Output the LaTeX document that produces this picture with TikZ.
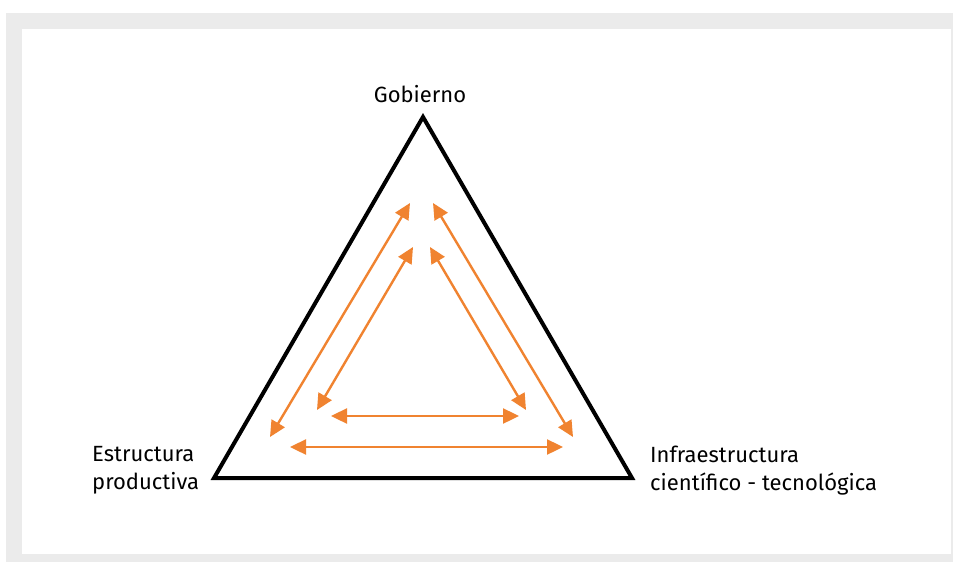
\documentclass[tikz,border=0pt]{standalone}
\usepackage{fontspec}
\setmainfont{Fira Sans}
\usetikzlibrary{arrows.meta}
\definecolor{framegrey}{RGB}{235,235,235}
\definecolor{linkorange}{RGB}{240,131,48}
\tikzset{
  frame/.style={fill=framegrey, draw=none},
  panel/.style={fill=white, draw=none},
  corner/.style={draw=black, line width=4pt, line join=miter},
  link/.style={draw=linkorange, line width=2.4pt,
    {Triangle[length=16pt,width=15pt]}-{Triangle[length=16pt,width=15pt]}},
  label/.style={inner sep=0pt, font=\fontsize{22}{28}\selectfont, align=left}
}
\begin{document}
\begin{tikzpicture}[x=1pt,y=-1pt]
  \useasboundingbox (0,0) rectangle (953,562);
  % background frame and white panel
  \fill[white] (0,0) rectangle (953,562);
  \path[frame] (6,13) rectangle (953,562);
  \path[panel] (22,29) rectangle (951,554);

  % triangle corners
  \coordinate (top) at (423,117);
  \coordinate (left) at (214,478);
  \coordinate (right) at (632,478);
  \draw[corner] (top) -- (left) -- (right) -- cycle;

  % outer ring of double-headed links
  \coordinate (oL1) at (270,437);
  \coordinate (oL2) at (410,203);
  \coordinate (oR1) at (433,203);
  \coordinate (oR2) at (573,437);
  \coordinate (oB1) at (290,447);
  \coordinate (oB2) at (563,447);
  % inner ring
  \coordinate (iL1) at (317,410);
  \coordinate (iL2) at (413,247);
  \coordinate (iR1) at (430,247);
  \coordinate (iR2) at (526,410);
  \coordinate (iB1) at (331,416);
  \coordinate (iB2) at (519,416);

  \draw[link] (oL1) -- (oL2);
  \draw[link] (oR1) -- (oR2);
  \draw[link] (oB1) -- (oB2);
  \draw[link] (iL1) -- (iL2);
  \draw[link] (iR1) -- (iR2);
  \draw[link] (iB1) -- (iB2);

  % vertex labels
  \node[label, anchor=base] (gob) at (420,102) {Gobierno};
  \node[label, anchor=north west] (est) at (92,446) {Estructura\\productiva};
  \node[label, anchor=north west] (inf) at (650,446) {Infraestructura\\científico - tecnológica};
\end{tikzpicture}
\end{document}
